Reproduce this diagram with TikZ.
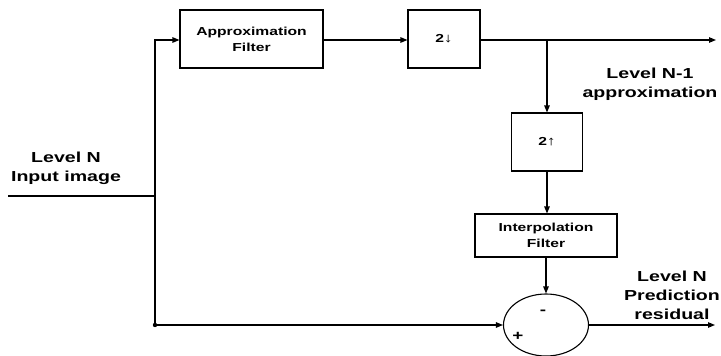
\documentclass[tikz,border=0pt]{standalone}
\usepackage{fontspec}
\usetikzlibrary{arrows.meta,shapes.geometric}
\newfontfamily\labfont[FakeStretch=1.35]{Liberation Sans}
\tikzset{
  wire/.style={line width=1.1pt},
  arr/.style={wire,-{Triangle[length=7pt,width=5.5pt]}},
  blockbox/.style={draw,line width=1.1pt,inner sep=0pt,align=center,
    font=\labfont\bfseries\fontsize{11.6}{16}\selectfont},
  lbl/.style={align=center,inner sep=0pt,
    font=\labfont\bfseries\fontsize{14.5}{19}\selectfont},
  sign/.style={inner sep=0pt,font=\labfont\bfseries\fontsize{14}{16}\selectfont}
}
\begin{document}
\begin{tikzpicture}[x=1pt,y=-1pt]
\useasboundingbox (0,0) rectangle (721,356);
% blocks
\node[blockbox,minimum width=143pt,minimum height=58pt] (af) at (251.5,39) {Approximation\\Filter};
\node[blockbox,minimum width=72pt,minimum height=58pt] (dn) at (444,39) {2{\fontsize{13}{13}\selectfont↓}};
\node[blockbox,minimum width=71pt,minimum height=58pt] (up) at (547,142) {2{\fontsize{13}{13}\selectfont↑}};
\node[blockbox,minimum width=142pt,minimum height=43pt] (ip) at (546,235.5) {Interpolation\\Filter};
\node[draw,ellipse,line width=1.1pt,minimum width=85pt,minimum height=62pt,inner sep=0pt] (sum) at (546,325) {};
% coordinates
\coordinate (inl) at (8,196);
\coordinate (j1) at (155,196);
\coordinate (tp) at (155,40);
\coordinate (bot) at (155,325);
\coordinate (br) at (547,40);
\coordinate (out1) at (716,40);
\coordinate (out2) at (715,325);
% connectors
\draw[wire] (inl) -- (j1);
\draw[arr] (bot) -- (tp) -- (af.west |- tp);
\draw[arr] (af.east |- tp) -- (dn.west |- tp);
\draw[arr] (dn.east |- tp) -- (out1);
\draw[arr] (br) -- (br |- up.north);
\draw[arr] (up.south) -- (up.south |- ip.north);
\draw[arr] (ip.south) -- (ip.south |- sum.north);
\draw[arr] (bot) -- (sum.west);
\draw[arr] (sum.east) -- (out2);
\fill (bot) circle (2.2pt);
% signs
\node[sign] (minus) at (543,312) {-};
\node[sign] (plus) at (518,336) {+};
% labels
\node[lbl] (l1) at (66,168) {Level N\\Input image};
\node[lbl] (l2) at (650,84) {Level N-1\\approximation};
\node[lbl] (l3) at (672,295) {Level N\\Prediction\\residual};
\end{tikzpicture}
\end{document}
